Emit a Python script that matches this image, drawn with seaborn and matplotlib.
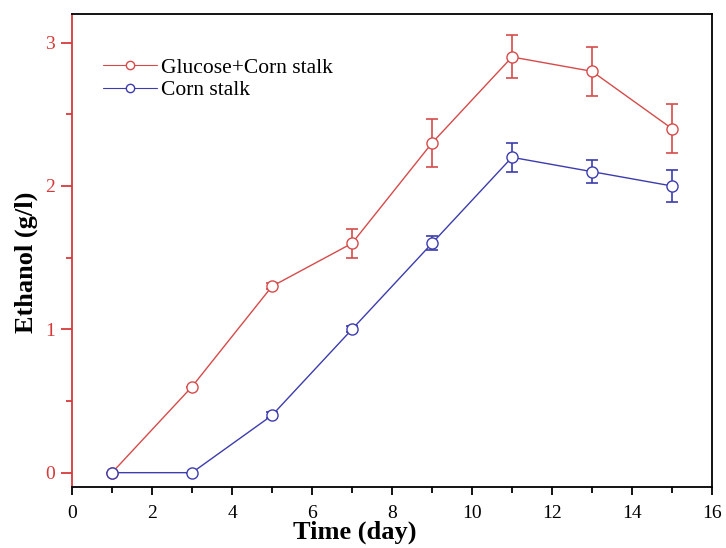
import numpy as np
import pandas as pd
import seaborn as sns
import matplotlib.pyplot as plt
from matplotlib.ticker import MultipleLocator

# Data
days = [1, 3, 5, 7, 9, 11, 13, 15]
glucose_corn = [0, 0.6, 1.3, 1.6, 2.3, 2.9, 2.8, 2.4]
glucose_corn_err = [0, 0, 0.02, 0.1, 0.17, 0.15, 0.17, 0.17]
corn = [0, 0, 0.4, 1.0, 1.6, 2.2, 2.1, 2.0]
corn_err = [0, 0, 0.02, 0.02, 0.05, 0.1, 0.08, 0.11]
labels = ["Glucose+Corn stalk", "Corn stalk"]
colors = ["#d64a4a", "#3c3cae"]
axis_red = "#d43a3a"

sns.set_style("ticks")
plt.rcParams["font.family"] = ["Liberation Serif", "DejaVu Serif"]
plt.rcParams["text.color"] = "black"
plt.rcParams["axes.labelcolor"] = "black"
plt.rcParams["xtick.color"] = "black"

df = pd.DataFrame({
    "day": days * 2,
    "ethanol": glucose_corn + corn,
    "err": glucose_corn_err + corn_err,
    "series": [labels[0]] * len(days) + [labels[1]] * len(days),
})

fig = plt.figure(figsize=(7.26, 5.48), dpi=100)
ax = fig.add_axes([0.0992, 0.1113, 0.8815, 0.8632])

sns.lineplot(data=df, x="day", y="ethanol", hue="series", palette=colors,
             marker="o", markersize=8, markerfacecolor="white",
             markeredgewidth=1.0, linewidth=1.0, ax=ax, zorder=3)

# marker edges in series colour
for line, c in zip(ax.lines, colors):
    line.set_markeredgecolor(c)

for lab, c in zip(labels, colors):
    sub = df[df["series"] == lab]
    ax.errorbar(sub["day"], sub["ethanol"], yerr=sub["err"], fmt="none",
                ecolor=c, elinewidth=1.2, capsize=4, capthick=1.2, zorder=2)

ax.set_xlim(0, 16)
ax.set_ylim(-0.1, 3.2)
ax.xaxis.set_major_locator(MultipleLocator(2))
ax.xaxis.set_minor_locator(MultipleLocator(1))
ax.yaxis.set_major_locator(MultipleLocator(1))
ax.yaxis.set_minor_locator(MultipleLocator(0.5))

ax.tick_params(axis="both", which="both", direction="out", width=1.3)
ax.tick_params(axis="x", which="both", colors="black")
ax.tick_params(axis="x", which="major", length=6, labelsize=14, pad=7)
ax.tick_params(axis="x", which="minor", length=4)
ax.tick_params(axis="y", which="major", length=8, labelsize=14, pad=4.5)
ax.tick_params(axis="y", which="minor", length=4)
ax.tick_params(axis="y", which="both", colors=axis_red)

for side in ["top", "right", "bottom"]:
    ax.spines[side].set_visible(True)
    ax.spines[side].set_color("black")
    ax.spines[side].set_linewidth(1.3)
ax.spines["left"].set_color(axis_red)
ax.spines["left"].set_linewidth(1.3)

ax.set_xlabel("Time (day)", fontsize=19, fontweight="bold", color="black")
ax.set_ylabel("Ethanol (g/l)", fontsize=19, fontweight="bold", color="black")
ax.xaxis.set_label_coords(0.442, -0.072)
ax.yaxis.set_label_coords(-0.053, 0.476)

leg = ax.legend(loc="upper left", bbox_to_anchor=(0.048, 0.908), frameon=False,
                fontsize=15.5, handlelength=2.5, handletextpad=0.2,
                labelspacing=0.12, borderpad=0, borderaxespad=0)
for t in leg.get_texts():
    t.set_color("black")
for h, c in zip(leg.get_lines(), colors):
    h.set_markerfacecolor("white")
    h.set_markeredgecolor(c)
    h.set_markersize(6)
    h.set_linewidth(0.8)

fig.savefig("out.png", dpi=100)
